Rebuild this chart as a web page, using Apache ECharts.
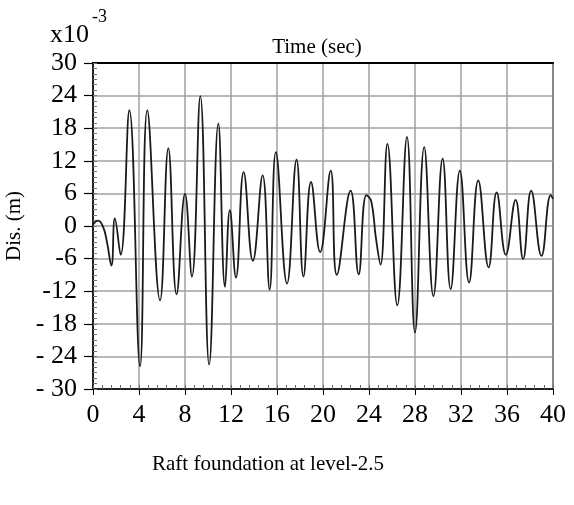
<!DOCTYPE html>
<html>
<head>
<meta charset="utf-8">
<script src="https://cdn.jsdelivr.net/npm/echarts@6/dist/echarts.min.js"></script>
<style>html,body{margin:0;padding:0;background:#fff}#c{width:574px;height:505px}</style>
</head>
<body>
<div id="c"></div>
<script>
const timeSec = [0, 0.46, 0.9, 1.2, 1.6, 1.9, 2.4, 3.16, 4.09, 4.72, 5.83, 6.55, 7.27, 8.0, 8.6, 9.33, 10.1, 10.9, 11.48, 11.9, 12.43, 13.1, 13.9, 14.75, 15.36, 15.9, 16.87, 17.7, 18.3, 18.96, 19.75, 20.67, 21.2, 22.4, 23.1, 23.77, 24.2, 24.6, 25.0, 25.6, 26.46, 27.3, 28.0, 28.8, 29.6, 30.4, 31.1, 31.9, 32.7, 33.5, 34.4, 35.1, 35.9, 36.75, 37.4, 38.1, 39.0, 39.8, 40];
const displacement = [0.3, 1.0, -0.3, -2.8, -7.3, 1.4, -5.3, 21.3, -25.8, 21.3, -13.7, 14.3, -12.6, 5.9, -9.3, 23.9, -25.5, 18.9, -11.2, 2.9, -9.5, 9.9, -6.4, 9.3, -11.7, 13.6, -10.6, 12.2, -9.3, 8.1, -4.8, 10.2, -9.0, 6.5, -8.9, 5.7, 4.5, -2.2, -7.1, 15.1, -14.6, 16.4, -19.6, 14.5, -12.9, 12.4, -11.6, 10.2, -10.4, 8.4, -7.6, 6.2, -5.3, 4.8, -6.1, 6.5, -5.5, 5.7, 5.0];
const yTickValues = [30, 24, 18, 12, 6, 0, -6, -12, -18, -24, -30];
const yTickLabels = ['30', '24', '18', '12', '6', '0', '-6', '-12', '- 18', '- 24', '- 30'];
const xTickLabels = ['0', '4', '8', '12', '16', '20', '24', '28', '32', '36', '40'];

const serif = '"Liberation Serif", "DejaVu Serif", serif';
const chart = echarts.init(document.getElementById('c'), null, {renderer: 'canvas'});
const pts = timeSec.map((t, i) => [t, displacement[i]]);

chart.setOption({
  animation: false,
  backgroundColor: '#fff',
  grid: {left: 93, right: 21, top: 63, bottom: 116, containLabel: false, outerBoundsMode: 'none',
         show: true, borderColor: '#000', borderWidth: 1.5},
  xAxis: [{
    type: 'value', min: 0, max: 40, interval: 4, position: 'bottom',
    axisLine: {show: true, onZero: false, lineStyle: {color: '#000', width: 1.5}},
    axisTick: {show: true, inside: false, length: 6, lineStyle: {color: '#000', width: 1}},
    minorTick: {show: false},
    splitLine: {show: true, lineStyle: {color: '#a0a0a0', width: 1.5}},
    axisLabel: {fontFamily: serif, fontSize: 26, color: '#000', margin: 13,
      formatter: v => xTickLabels[Math.round(v / 4)]}
  }, {
    type: 'value', min: 0, max: 40, position: 'top',
    axisLine: {show: true, onZero: false, lineStyle: {color: '#000', width: 2}},
    axisTick: {show: false}, axisLabel: {show: false}, splitLine: {show: false},
    name: 'Time (sec)', nameLocation: 'middle', nameGap: 5,
    nameTextStyle: {fontFamily: serif, fontSize: 21, color: '#000', padding: [0, 12, 0, 0]}
  }, {
    type: 'value', min: 0, max: 40, interval: 4, position: 'bottom',
    axisLine: {show: false, onZero: false},
    axisTick: {show: true, inside: true, length: 4, lineStyle: {color: '#666', width: 1}},
    minorTick: {show: true, splitNumber: 5, length: 4, lineStyle: {color: '#666', width: 1}},
    axisLabel: {show: false}, splitLine: {show: false}
  }],
  yAxis: [{
    type: 'value', min: -30, max: 30, interval: 6,
    axisLine: {show: true, onZero: false, lineStyle: {color: '#000', width: 1.5}},
    axisTick: {show: true, inside: false, length: 9, lineStyle: {color: '#000', width: 1.2}},
    minorTick: {show: false},
    splitLine: {show: true, lineStyle: {color: '#a0a0a0', width: 1.5}},
    axisLabel: {fontFamily: serif, fontSize: 26, color: '#000', margin: 16,
      formatter: v => { const i = yTickValues.indexOf(Math.round(v)); return i >= 0 ? yTickLabels[i] : ''; }},
    name: 'Dis. (m)', nameLocation: 'middle', nameRotate: 90, nameGap: 64,
    nameTextStyle: {fontFamily: serif, fontSize: 21, color: '#000'}
  }, {
    type: 'value', min: -30, max: 30, interval: 6, position: 'left',
    axisLine: {show: false, onZero: false},
    axisTick: {show: true, inside: true, length: 4, lineStyle: {color: '#777', width: 1}},
    minorTick: {show: true, splitNumber: 6, length: 4, lineStyle: {color: '#777', width: 1}},
    axisLabel: {show: false}, splitLine: {show: false}
  }],
  graphic: [
    {type: 'text', left: 50, top: 22, style: {text: 'x10', fontFamily: serif, fontSize: 26, fill: '#000'}},
    {type: 'text', left: 92, top: 8, style: {text: '-3', fontFamily: serif, fontSize: 18, fill: '#000'}},
    {type: 'text', left: 152, top: 454, style: {text: 'Raft foundation at level-2.5', fontFamily: serif, fontSize: 21, fill: '#000'}}
  ],
  series: [{
    type: 'line', xAxisIndex: 0, yAxisIndex: 0, data: pts, showSymbol: false, smooth: 0.45,
    lineStyle: {color: '#1a1a1a', width: 1.8}
  }]
});
</script>
</body>
</html>
